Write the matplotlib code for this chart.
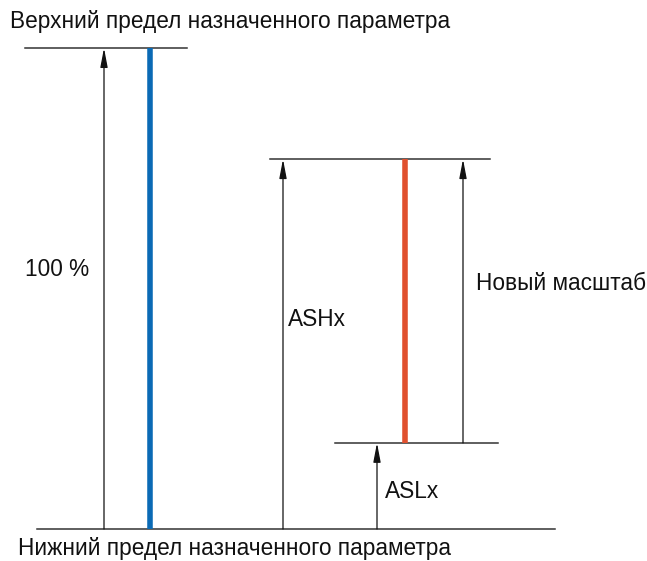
import matplotlib
matplotlib.use("Agg")
import matplotlib.pyplot as plt

# Levels in percent of the assigned parameter range
level_names = ["bottom", "top", "ASHx", "ASLx"]
level_values = [0.0, 100.0, 76.9, 17.9]
bar_ranges = {"full": (0.0, 100.0), "new": (17.9, 76.9)}
labels = ["Верхний предел назначенного параметра", "Нижний предел назначенного параметра",
          "100 %", "ASHx", "ASLx", "Новый масштаб"]

plt.rcParams['font.family'] = ['Liberation Sans', 'DejaVu Sans']

fig = plt.figure(figsize=(6.47, 5.61), dpi=100)
ax = fig.add_axes([0, 0, 1, 1])
ax.set_xlim(0, 647)
ax.set_ylim(-6.65, 110.0)
ax.axis('off')

lvl = dict(zip(level_names, level_values))
lc = '#333333'
# horizontal reference lines
ax.plot([25, 187], [lvl["top"]] * 2, color=lc, lw=1.1)
ax.plot([270, 490], [lvl["ASHx"]] * 2, color=lc, lw=1.1)
ax.plot([335, 498], [lvl["ASLx"]] * 2, color=lc, lw=1.1)
ax.plot([37, 555], [lvl["bottom"]] * 2, color=lc, lw=1.1)

# bars
ax.plot([150, 150], bar_ranges["full"], color='#0a6ab5', lw=4.0, solid_capstyle='butt')
ax.plot([405, 405], bar_ranges["new"], color='#e0502e', lw=4.0, solid_capstyle='butt')

def arrow(x, y0, y1):
    ax.annotate('', xy=(x, y1), xytext=(x, y0),
                arrowprops=dict(arrowstyle='-|>,head_length=1.15,head_width=0.22',
                                color='#111111', lw=0.9, shrinkA=0, shrinkB=0))

arrow(104, lvl["bottom"], lvl["top"])
arrow(283, lvl["bottom"], lvl["ASHx"])
arrow(463, lvl["ASLx"], lvl["ASHx"])
arrow(377, lvl["bottom"], lvl["ASLx"])

fs = 16.3
def px(y):
    return 110.0 - y / 4.81

ax.text(10, px(22), labels[0], fontsize=fs, va='center', ha='left', color='#111111')
ax.text(18, px(549), labels[1], fontsize=fs, va='center', ha='left', color='#111111')
ax.text(25, px(270), labels[2], fontsize=fs, va='center', ha='left', color='#111111')
ax.text(288, px(320), labels[3], fontsize=fs, va='center', ha='left', color='#111111')
ax.text(385, px(492), labels[4], fontsize=fs, va='center', ha='left', color='#111111')
ax.text(476, px(284), labels[5], fontsize=fs, va='center', ha='left', color='#111111')

fig.savefig('out.png', dpi=100, facecolor='white')
